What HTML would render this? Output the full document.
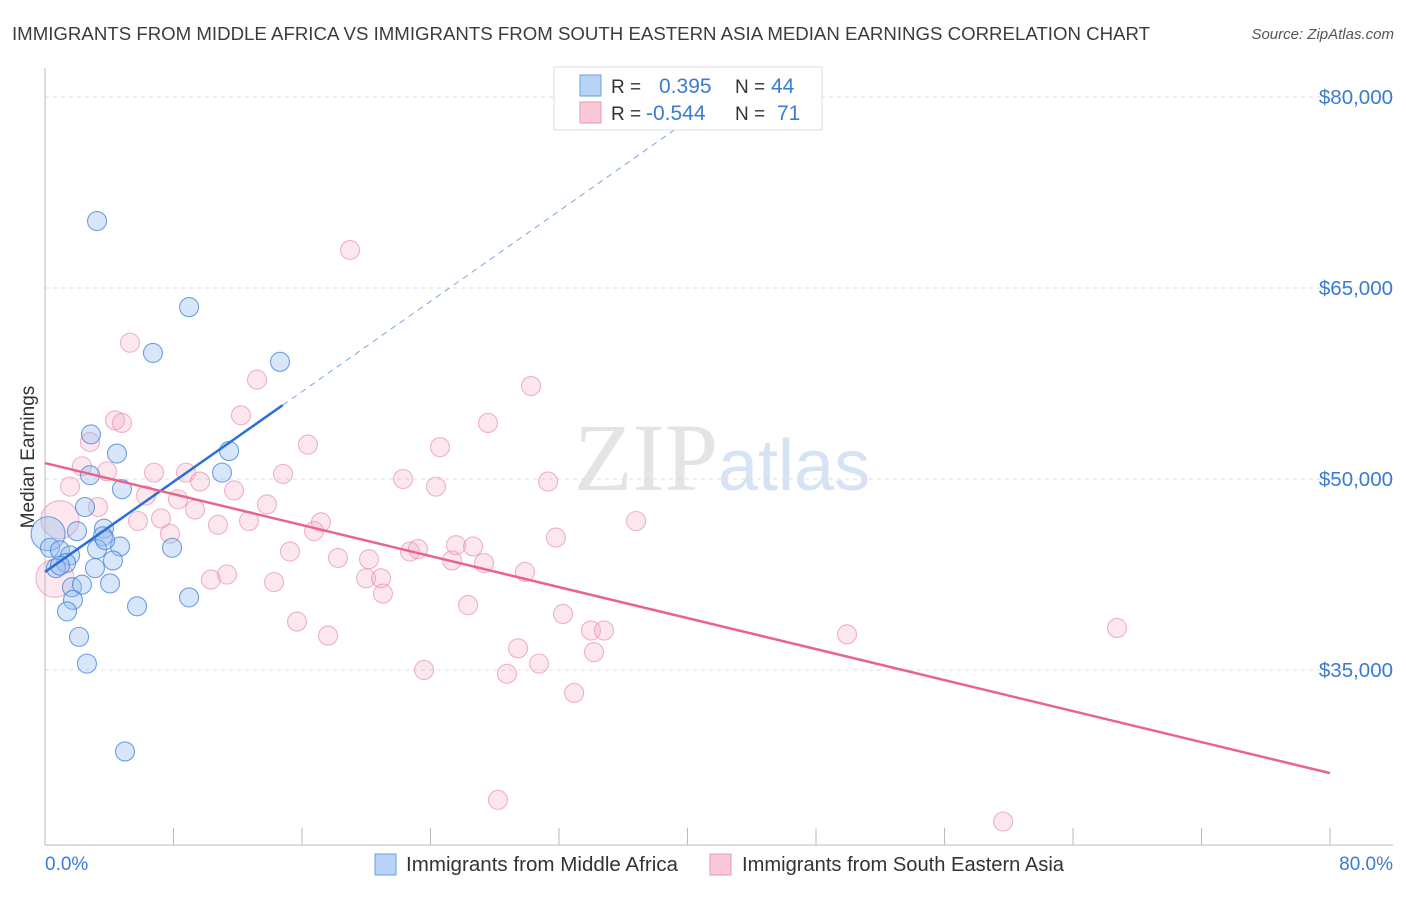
<!DOCTYPE html>
<html><head><meta charset="utf-8"><style>
body{margin:0;background:#fff;font-family:"Liberation Sans",sans-serif;}
svg text{font-family:"Liberation Sans",sans-serif;}
</style></head><body>
<svg id="chart" width="1406" height="892" xmlns="http://www.w3.org/2000/svg">
<text x="12" y="40" font-size="18.6" fill="#3c3c3c" textLength="1138" lengthAdjust="spacingAndGlyphs">IMMIGRANTS FROM MIDDLE AFRICA VS IMMIGRANTS FROM SOUTH EASTERN ASIA MEDIAN EARNINGS CORRELATION CHART</text>
<text x="1394" y="39" font-size="15" fill="#555" font-style="italic" text-anchor="end">Source: ZipAtlas.com</text>
<text x="718" y="490" font-size="96" fill="#e4e4e4" text-anchor="end" style="font-family:'Liberation Serif',serif">ZIP</text>
<text x="718" y="490" font-size="72" fill="#d5e3f5">atlas</text>
<text transform="translate(34,457) rotate(-90)" font-size="19" fill="#333" text-anchor="middle">Median Earnings</text>
<g id="grid"></g><g id="axes"></g><g id="pink"></g><g id="blue"></g><g id="lines"></g>
<g>
<rect x="554" y="67" width="268" height="63" fill="#fff" stroke="#ddd"/>
<rect x="580" y="75" width="21" height="21" fill="#b8d3f5" stroke="#6a9fe0"/>
<rect x="580" y="102" width="21" height="21" fill="#f9c9d8" stroke="#e999b3"/>
<text x="611" y="93" font-size="19" fill="#333">R =</text>
<text x="659" y="93" font-size="21" fill="#3a7bd5">0.395</text>
<text x="735" y="93" font-size="19" fill="#333">N =</text>
<text x="771" y="93" font-size="21" fill="#3a7bd5">44</text>
<text x="611" y="120" font-size="19" fill="#333">R =</text>
<text x="646" y="120" font-size="21" fill="#3a7bd5">-0.544</text>
<text x="735" y="120" font-size="19" fill="#333">N =</text>
<text x="777" y="120" font-size="21" fill="#3a7bd5">71</text>
</g>
<g>
<rect x="375" y="854" width="21" height="21" fill="#b8d3f5" stroke="#6a9fe0"/>
<text x="406" y="871" font-size="20" fill="#333" textLength="272" lengthAdjust="spacingAndGlyphs">Immigrants from Middle Africa</text>
<rect x="710" y="854" width="21" height="21" fill="#f9c9d8" stroke="#e999b3"/>
<text x="742" y="871" font-size="20" fill="#333" textLength="322" lengthAdjust="spacingAndGlyphs">Immigrants from South Eastern Asia</text>
</g>
</svg>
<script>
const yTicks=[35000,50000,65000,80000];
const yTickLabels=["$35,000","$50,000","$65,000","$80,000"];
const xTicks=[0,8,16,24,32,40,48,56,64,72,80];
const blueX=[3.24,8.97,6.72,14.63,2.86,4.48,11.46,11.02,2.80,4.79,2.49,0.19,1.99,3.67,3.61,4.67,3.24,7.91,0.31,0.93,1.56,1.31,0.68,4.23,3.11,1.68,2.30,4.05,1.74,5.73,8.97,1.37,2.12,2.61,4.98,0.93,3.74];
const blueY=[70.26,63.5,59.9,59.2,53.5,52.0,52.2,50.5,50.3,49.2,47.8,45.7,45.9,46.1,45.5,44.7,44.5,44.6,44.6,44.4,44.0,43.4,43.0,43.6,43.0,41.5,41.7,41.8,40.5,40.0,40.7,39.6,37.6,35.5,28.6,43.2,45.2];
const pinkX=[18.99,5.29,13.2,30.26,4.36,4.79,12.2,27.58,2.80,16.37,24.59,2.30,3.86,6.79,8.78,22.29,14.82,24.34,31.32,9.65,11.77,1.56,6.29,8.28,13.82,9.34,3.30,7.22,5.79,12.70,10.77,17.18,36.80,7.78,16.75,31.81,15.25,22.72,23.22,25.59,26.65,18.24,20.17,25.34,27.33,10.33,11.33,19.99,20.92,14.26,29.88,21.04,26.34,32.25,15.69,17.62,33.99,34.80,49.93,66.74,29.45,34.18,23.60,30.76,28.76,32.94,28.20,59.65,0.62,0.93];
const pinkY=[67.98,60.7,57.8,57.3,54.6,54.4,55.0,54.4,52.9,52.7,52.5,51.0,50.6,50.5,50.5,50.0,50.4,49.4,49.8,49.8,49.1,49.4,48.7,48.4,48.0,47.6,47.8,46.9,46.7,46.7,46.4,46.6,46.7,45.7,45.9,45.4,44.3,44.3,44.5,44.8,44.7,43.8,43.7,43.6,43.4,42.1,42.5,42.2,42.2,41.9,42.7,41.0,40.1,39.4,38.8,37.7,38.1,38.1,37.8,38.3,36.7,36.4,35.0,35.5,34.7,33.2,24.8,23.1,42.2,46.8];
const blueTrend=[[0,42.7],[14.8,55.8],[42.1,80]];
const pinkTrend=[[0,51.25],[80,26.9]];
const xS=v=>45+v*(1285/80);
const yS=v=>97+(80-v)*12.733;
const NS="http://www.w3.org/2000/svg";
function mk(tag,attrs,parent){const e=document.createElementNS(NS,tag);for(const k in attrs)e.setAttribute(k,attrs[k]);document.getElementById(parent).appendChild(e);return e;}
yTicks.forEach((t,i)=>{
 const g=mk('line',{x1:45,x2:1393,y1:yS(t/1000),y2:yS(t/1000),stroke:'#ddd','stroke-dasharray':'4,4'},'grid');
 
 
 const l=mk('text',{x:1393,y:yS(t/1000)+7,'font-size':20.5,fill:'#3a7bd5','text-anchor':'end'},'grid');
 l.textContent=yTickLabels[i];
 
 
});
const ax=mk('line',{x1:45,x2:45,y1:68,y2:845,stroke:'#bbb'},'axes');


const bx=mk('line',{x1:45,x2:1393,y1:845,y2:845,stroke:'#bbb'},'axes');


xTicks.forEach(t=>{
 const tk=mk('line',{x1:xS(t),x2:xS(t),y1:828,y2:845,stroke:'#bbb'},'axes');
 
 
});
const x0=mk('text',{x:45,y:870,'font-size':19,fill:'#3a7bd5'},'axes');x0.textContent=xTicks[0].toFixed(1)+'%';


const x1=mk('text',{x:1393,y:870,'font-size':19,fill:'#3a7bd5','text-anchor':'end'},'axes');x1.textContent=xTicks[xTicks.length-1].toFixed(1)+'%';


pinkX.forEach((v,i)=>{
 const r=i>=pinkX.length-2?19:9.5;
 const c=mk('circle',{cx:xS(v),cy:yS(pinkY[i]),r:r,fill:'rgba(244,170,195,0.28)',stroke:'rgba(232,140,170,0.65)','stroke-width':1.1},'pink');
 
 
});
blueX.forEach((v,i)=>{
 const r=i===11?17:9.5;
 const c=mk('circle',{cx:xS(v),cy:yS(blueY[i]),r:r,fill:'rgba(150,190,240,0.38)',stroke:'rgba(70,130,215,0.75)','stroke-width':1.1},'blue');
 
 
});
const bl=mk('line',{x1:xS(blueTrend[0][0]),y1:yS(blueTrend[0][1]),x2:xS(blueTrend[1][0]),y2:yS(blueTrend[1][1]),stroke:'#2a6fd6','stroke-width':2.5},'lines');


const bd=mk('line',{x1:xS(blueTrend[1][0]),y1:yS(blueTrend[1][1]),x2:xS(blueTrend[2][0]),y2:yS(blueTrend[2][1]),stroke:'#7aa6e6','stroke-width':1,'stroke-dasharray':'6,5'},'lines');


const pl=mk('line',{x1:xS(pinkTrend[0][0]),y1:yS(pinkTrend[0][1]),x2:xS(pinkTrend[1][0]),y2:yS(pinkTrend[1][1]),stroke:'#e8648f','stroke-width':2.5},'lines');


</script>
</body></html>
